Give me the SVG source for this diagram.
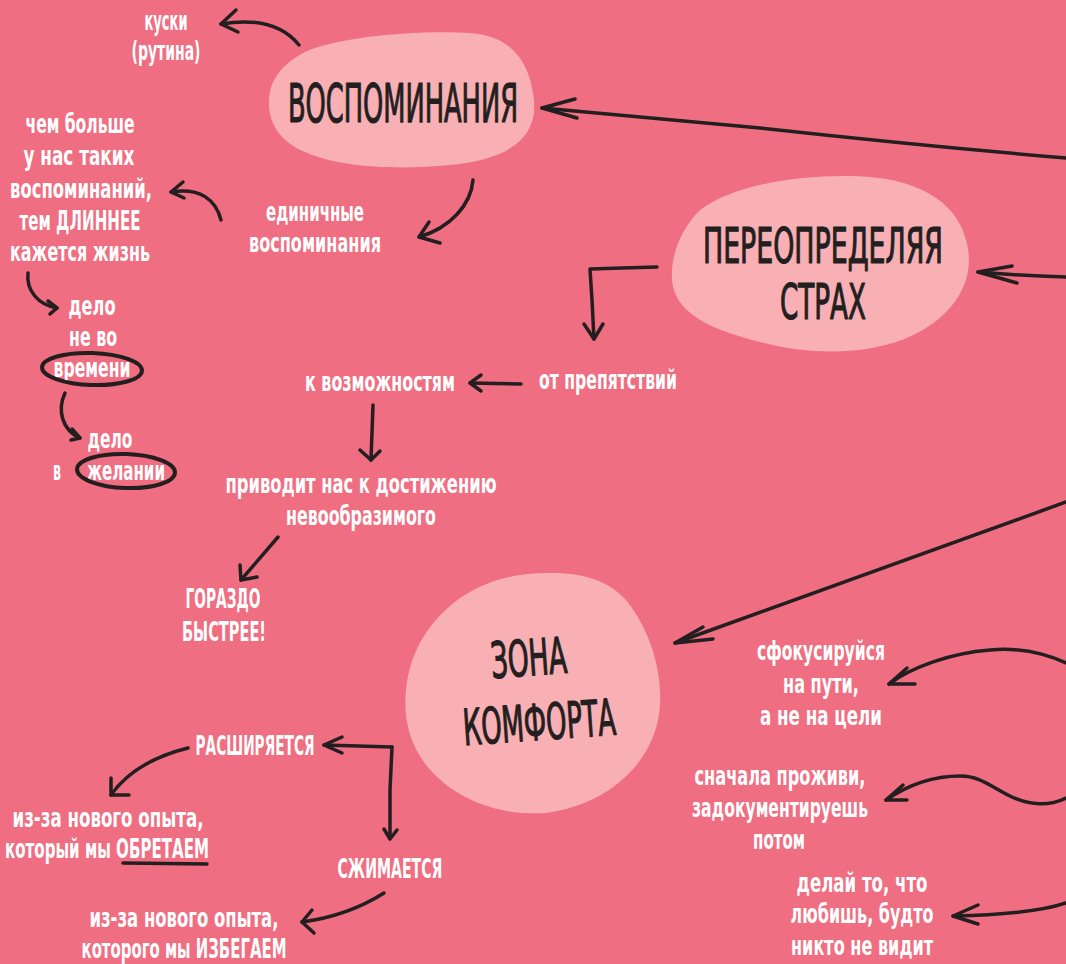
<svg xmlns="http://www.w3.org/2000/svg" width="1066" height="964" viewBox="0 0 1066 964">
<style>
.bg{fill:#F06E81}
.blob{fill:#F8B0B4}
.head{font-family:"Liberation Sans Narrow","DejaVu Sans Condensed","Liberation Sans",sans-serif;font-weight:normal;fill:#231F20;text-anchor:middle;stroke:#231F20;stroke-width:1.2;stroke-linejoin:round}
.lbl{font-family:"Liberation Sans Narrow","DejaVu Sans Condensed","Liberation Sans",sans-serif;font-weight:bold;font-size:26px;fill:#FFFFFF;text-anchor:middle}
.ln{fill:none;stroke:#231F20;stroke-width:3.5;stroke-linecap:round;stroke-linejoin:round}
.ring{fill:none;stroke:#231F20;stroke-width:4}
</style>
<rect class="bg" x="0" y="0" width="1066" height="964"/>

<g id="connectors">
  <path class="ln" d="M1066,158 C960,149 860,139 760,128 C680,120 610,114 542,108"/>
  <path class="ln" d="M575,99 L542,108 L577,118"/>
  <path class="ln" d="M1066,277 C1030,276 1000,274 978,272"/>
  <path class="ln" d="M1012,266 L978,272 L1017,283"/>
  <path class="ln" d="M1066,502 C960,540 820,590 675,643"/>
  <path class="ln" d="M703,627 L675,643 L713,639"/>
  <path class="ln" d="M299,45 C285,28 262,17 221,24"/>
  <path class="ln" d="M236,10 L221,24 L238,32"/>
  <path class="ln" d="M473,180 C471,205 450,228 419,237"/>
  <path class="ln" d="M429,222 L419,237 L440,243"/>
  <path class="ln" d="M221,220 C216,200 200,187 171,192"/>
  <path class="ln" d="M183,182 L171,192 L184,198"/>
  <path class="ln" d="M28,273 C26,290 38,305 57,308"/>
  <path class="ln" d="M48,301 L57,308 L50,314"/>
  <path class="ln" d="M65,393 C57,410 62,430 80,438"/>
  <path class="ln" d="M72,429 L80,438 L71,440"/>
  <path class="ln" d="M521,384 L470,383"/>
  <path class="ln" d="M481,375 L470,383 L481,391"/>
  <path class="ln" d="M657,267 L622,268 L590,269 L592,300 L594,339"/>
  <path class="ln" d="M584,324 L594,339 L603,324"/>
  <path class="ln" d="M373,405 L371,460"/>
  <path class="ln" d="M360,450 L371,460 L380,451"/>
  <path class="ln" d="M278,537 L241,580"/>
  <path class="ln" d="M240,565 L241,580 L257,577"/>
  <path class="ln" d="M392,747 L324,745"/>
  <path class="ln" d="M342,737 L324,745 L342,753"/>
  <path class="ln" d="M392,747 L390,790 L390,838"/>
  <path class="ln" d="M384,829 L390,839 L397,830"/>
  <path class="ln" d="M188,748 C160,755 130,768 111,795"/>
  <path class="ln" d="M111,778 L111,795 L129,795"/>
  <path class="ln" d="M384,893 C365,905 340,917 302,922"/>
  <path class="ln" d="M312,910 L302,922 L314,933"/>
  <path class="ln" d="M1066,663 C1040,651 1012,648 990,650 C950,653 910,668 889,684"/>
  <path class="ln" d="M907,668 L889,684 L915,684"/>
  <path class="ln" d="M1066,798 C1050,806 1030,806 1010,796 C990,786 980,776 960,776 C930,776 905,787 886,800"/>
  <path class="ln" d="M903,785 L886,800 L907,800"/>
  <path class="ln" d="M1066,903 C1040,912 1000,915 953,916"/>
  <path class="ln" d="M978,905 L953,916 L978,924"/>
  <path class="ln" d="M123,863 L207,864"/>
</g>

<g id="node-vospominaniya">
  <path class="blob" d="M305,52 C340,36 420,30 470,33 C512,36 530,62 534,100 C538,140 505,160 450,165 C400,170 340,168 305,152 C272,138 266,112 270,92 C274,72 290,60 305,52 Z"/>
  <text class="head" x="403" y="122" font-size="54" textLength="230" lengthAdjust="spacingAndGlyphs">ВОСПОМИНАНИЯ</text>
</g>

<g id="node-pereopredelyaya">
  <path class="blob" d="M700,210 C732,186 792,175 852,176 C915,177 956,200 966,240 C978,282 952,320 902,340 C860,355 810,355 760,342 C712,330 680,315 673,287 C668,260 680,230 700,210 Z"/>
  <text class="head" x="823" y="263" font-size="50" textLength="240" lengthAdjust="spacingAndGlyphs">ПЕРЕОПРЕДЕЛЯЯ</text>
  <text class="head" x="823" y="319" font-size="50" textLength="86" lengthAdjust="spacingAndGlyphs">СТРАХ</text>
</g>

<g id="node-zona">
  <path class="blob" d="M547,573 C585,572 610,582 626,600 C650,630 662,670 660,705 C657,760 610,805 545,813 C500,816 460,800 435,775 C410,750 403,720 406,690 C410,650 430,620 460,598 C490,578 520,573 547,573 Z"/>
  <g transform="rotate(-4 538 705)">
    <text class="head" x="532" y="675" font-size="50" textLength="76" lengthAdjust="spacingAndGlyphs">ЗОНА</text>
    <text class="head" x="538" y="740" font-size="50" textLength="153" lengthAdjust="spacingAndGlyphs">КОМФОРТА</text>
  </g>
</g>

<g id="node-kuski">
  <text class="lbl" x="166" y="30" textLength="43" lengthAdjust="spacingAndGlyphs">куски</text>
  <text class="lbl" x="166" y="60" textLength="69" lengthAdjust="spacingAndGlyphs">(рутина)</text>
</g>

<g id="node-edinichnye">
  <text class="lbl" x="315" y="221" textLength="98" lengthAdjust="spacingAndGlyphs">единичные</text>
  <text class="lbl" x="315" y="252" textLength="132" lengthAdjust="spacingAndGlyphs">воспоминания</text>
</g>

<g id="node-chem-bolshe">
  <text class="lbl" x="80" y="133" textLength="109" lengthAdjust="spacingAndGlyphs">чем больше</text>
  <text class="lbl" x="79" y="165" textLength="111" lengthAdjust="spacingAndGlyphs">у нас таких</text>
  <text class="lbl" x="81" y="198" textLength="142" lengthAdjust="spacingAndGlyphs">воспоминаний,</text>
  <text class="lbl" x="80" y="230" textLength="121" lengthAdjust="spacingAndGlyphs">тем ДЛИННЕЕ</text>
  <text class="lbl" x="80" y="261" textLength="140" lengthAdjust="spacingAndGlyphs">кажется жизнь</text>
</g>

<g id="node-delo-vremeni">
  <text class="lbl" x="92" y="315" textLength="47" lengthAdjust="spacingAndGlyphs">дело</text>
  <text class="lbl" x="93" y="346" textLength="48" lengthAdjust="spacingAndGlyphs">не во</text>
  <text class="lbl" x="92" y="377" textLength="77" lengthAdjust="spacingAndGlyphs">времени</text>
  <ellipse class="ring" cx="92" cy="369" rx="50" ry="16" transform="rotate(2 92 369)"/>
</g>

<g id="node-delo-zhelanii">
  <text class="lbl" x="110" y="448" textLength="45" lengthAdjust="spacingAndGlyphs">дело</text>
  <text class="lbl" x="57" y="480" textLength="8" lengthAdjust="spacingAndGlyphs">в</text>
  <text class="lbl" x="126" y="480" textLength="78" lengthAdjust="spacingAndGlyphs">желании</text>
  <ellipse class="ring" cx="126" cy="471" rx="49" ry="17" transform="rotate(2 126 471)"/>
</g>

<g id="node-ot-prepyatstviy">
  <text class="lbl" x="608" y="389" textLength="138" lengthAdjust="spacingAndGlyphs">от препятствий</text>
</g>

<g id="node-k-vozmozhnostyam">
  <text class="lbl" x="380" y="391" textLength="150" lengthAdjust="spacingAndGlyphs">к возможностям</text>
</g>

<g id="node-privodit">
  <text class="lbl" x="361" y="493" textLength="271" lengthAdjust="spacingAndGlyphs">приводит нас к достижению</text>
  <text class="lbl" x="361" y="525" textLength="150" lengthAdjust="spacingAndGlyphs">невообразимого</text>
</g>

<g id="node-gorazdo">
  <text class="lbl" x="223" y="608" textLength="75" lengthAdjust="spacingAndGlyphs">ГОРАЗДО</text>
  <text class="lbl" x="224" y="641" textLength="84" lengthAdjust="spacingAndGlyphs">БЫСТРЕЕ!</text>
</g>

<g id="node-rasshiryaetsya">
  <text class="lbl" x="255" y="755" textLength="119" lengthAdjust="spacingAndGlyphs">РАСШИРЯЕТСЯ</text>
</g>

<g id="node-obretaem">
  <text class="lbl" x="108" y="827" textLength="191" lengthAdjust="spacingAndGlyphs">из-за нового опыта,</text>
  <text class="lbl" x="107" y="858" textLength="204" lengthAdjust="spacingAndGlyphs">который мы ОБРЕТАЕМ</text>
</g>

<g id="node-szhimaetsya">
  <text class="lbl" x="390" y="878" textLength="105" lengthAdjust="spacingAndGlyphs">СЖИМАЕТСЯ</text>
</g>

<g id="node-izbegaem">
  <text class="lbl" x="184" y="927" textLength="189" lengthAdjust="spacingAndGlyphs">из-за нового опыта,</text>
  <text class="lbl" x="184" y="958" textLength="205" lengthAdjust="spacingAndGlyphs">которого мы ИЗБЕГАЕМ</text>
</g>

<g id="node-sfokusiruysya">
  <text class="lbl" x="821" y="660" textLength="128" lengthAdjust="spacingAndGlyphs">сфокусируйся</text>
  <text class="lbl" x="821" y="693" textLength="76" lengthAdjust="spacingAndGlyphs">на пути,</text>
  <text class="lbl" x="821" y="725" textLength="122" lengthAdjust="spacingAndGlyphs">а не на цели</text>
</g>

<g id="node-snachala">
  <text class="lbl" x="780" y="785" textLength="171" lengthAdjust="spacingAndGlyphs">сначала проживи,</text>
  <text class="lbl" x="780" y="817" textLength="176" lengthAdjust="spacingAndGlyphs">задокументируешь</text>
  <text class="lbl" x="779" y="849" textLength="52" lengthAdjust="spacingAndGlyphs">потом</text>
</g>

<g id="node-delay">
  <text class="lbl" x="862" y="892" textLength="131" lengthAdjust="spacingAndGlyphs">делай то, что</text>
  <text class="lbl" x="862" y="923" textLength="143" lengthAdjust="spacingAndGlyphs">любишь, будто</text>
  <text class="lbl" x="862" y="955" textLength="142" lengthAdjust="spacingAndGlyphs">никто не видит</text>
</g>
</svg>
